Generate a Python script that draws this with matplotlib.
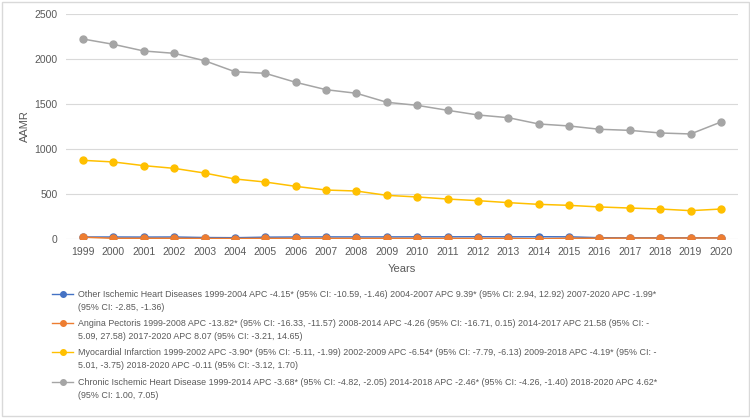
import matplotlib
matplotlib.use("Agg")
import matplotlib.pyplot as plt
from matplotlib.lines import Line2D
from matplotlib.patches import Rectangle

years = list(range(1999, 2021))

other_ihd = [22, 22, 21, 22, 16, 14, 20, 22, 23, 23, 23, 24, 24, 25, 24, 25,
             24, 14, 13, 13, 13, 13]
angina = [20, 8, 8, 8, 6, 5, 7, 7, 7, 7, 7, 7, 6, 6, 6, 2, 8, 9, 10, 10, 11, 12]
mi = [874, 856, 815, 785, 733, 667, 633, 585, 544, 533, 485, 467, 444, 426,
      404, 385, 374, 356, 344, 333, 315, 333]
chronic = [2222, 2163, 2089, 2063, 1981, 1859, 1841, 1741, 1659, 1619, 1519,
           1485, 1430, 1378, 1348, 1278, 1256, 1219, 1207, 1178, 1167, 1300]

labels = [
    ["Other Ischemic Heart Diseases 1999-2004 APC -4.15* (95% CI: -10.59, -1.46) "
     "2004-2007 APC 9.39* (95% CI: 2.94, 12.92) 2007-2020 APC -1.99*",
     "(95% CI: -2.85, -1.36)"],
    ["Angina Pectoris 1999-2008 APC -13.82* (95% CI: -16.33, -11.57) 2008-2014 APC -4.26 "
     "(95% CI: -16.71, 0.15) 2014-2017 APC 21.58 (95% CI: -",
     "5.09, 27.58) 2017-2020 APC 8.07 (95% CI: -3.21, 14.65)"],
    ["Myocardial Infarction 1999-2002 APC -3.90* (95% CI: -5.11, -1.99) 2002-2009 APC -6.54* "
     "(95% CI: -7.79, -6.13) 2009-2018 APC -4.19* (95% CI: -",
     "5.01, -3.75) 2018-2020 APC -0.11 (95% CI: -3.12, 1.70)"],
    ["Chronic Ischemic Heart Disease 1999-2014 APC -3.68* (95% CI: -4.82, -2.05) "
     "2014-2018 APC -2.46* (95% CI: -4.26, -1.40) 2018-2020 APC 4.62*",
     "(95% CI: 1.00, 7.05)"],
]
series = [other_ihd, angina, mi, chronic]
colors = ["#4472C4", "#ED7D31", "#FFC000", "#A5A5A5"]

plt.rcParams["font.family"] = ["Liberation Sans", "DejaVu Sans"]

W, H = 750, 419
fig = plt.figure(figsize=(7.5, 4.19), dpi=100)
ax = fig.add_axes([0.088, 0.4296, 0.896, 0.537])

for vals, col in zip(series, colors):
    ax.plot(years, vals, color=col, lw=1.1, marker="o", ms=5)

ax.set_xlim(1999 - 0.56, 2020 + 0.56)
ax.set_ylim(0, 2500)
ax.set_yticks([0, 500, 1000, 1500, 2000, 2500])
ax.set_xticks(years)
ax.grid(axis="y", color="#D9D9D9", lw=0.8)
ax.set_axisbelow(True)
for s in ax.spines.values():
    s.set_visible(False)
ax.tick_params(length=0, labelsize=7.5, colors="#595959", pad=6)
ax.set_xlabel("Years", fontsize=8, color="#595959", labelpad=5)
ax.set_ylabel("AAMR", fontsize=8, color="#595959", labelpad=3)

# legend drawn by hand so the key sits on the first text line, like Excel
row_y = [294, 323, 352, 382]
for col, lines, y in zip(colors, labels, row_y):
    yf = 1 - y / H
    fig.add_artist(Line2D([52 / W, 73 / W], [yf, yf], color=col, lw=1,
                          transform=fig.transFigure))
    fig.add_artist(Line2D([63 / W], [yf], color=col, marker="o", ms=4,
                          transform=fig.transFigure))
    for k, txt in enumerate(lines):
        fig.text(78 / W, 1 - (y + 13.5 * k) / H, txt, fontsize=6.4,
                 color="#595959", va="center", ha="left")

fig.patches.append(Rectangle((0.002, 0.006), 0.996, 0.99, transform=fig.transFigure,
                             fill=False, edgecolor="#D9D9D9", lw=1))

fig.savefig("out.png", dpi=100)
